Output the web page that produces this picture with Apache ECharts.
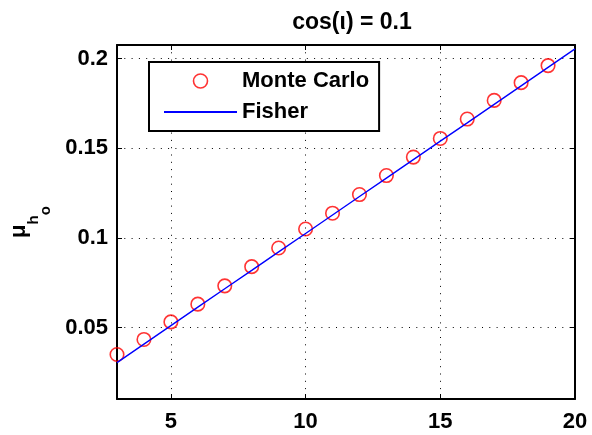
<!DOCTYPE html>
<html>
<head>
<meta charset="utf-8">
<script src="https://cdn.jsdelivr.net/npm/echarts@6/dist/echarts.min.js"></script>
<style>
  html, body { margin: 0; padding: 0; background: #ffffff; }
  #chart { width: 592px; height: 435px; }
</style>
</head>
<body>
<div id="chart"></div>
<script>
// Monte Carlo estimates of mu_h0 versus SNR
const mcSnr = [3, 4, 5, 6, 7, 8, 9, 10, 11, 12, 13, 14, 15, 16, 17, 18, 19];
const mcMu = [0.0349, 0.0433, 0.0531, 0.0630, 0.0732, 0.0839, 0.0943, 0.1049, 0.1137,
              0.1241, 0.1347, 0.1450, 0.1554, 0.1662, 0.1766, 0.1865, 0.1960];

// Fisher-matrix prediction
const fisherSnr = [3, 4, 5, 6, 7, 8, 9, 10, 11, 12, 13, 14, 15, 16, 17, 18, 19, 20];
const fisherMu = [0.0304, 0.0407, 0.0510, 0.0613, 0.0716, 0.0818, 0.0921, 0.1024, 0.1127,
                  0.1230, 0.1333, 0.1436, 0.1539, 0.1641, 0.1744, 0.1847, 0.1950, 0.2053];

// Axis ticks
const xTicks = [5, 10, 15, 20];
const yTicks = [0.05, 0.1, 0.15, 0.2];

const FONT = "'Liberation Sans', Arial, Helvetica, sans-serif";
const X_RANGE = [3, 20];
const Y_RANGE = [0.0101, 0.2075];

const frameLine = { show: true, onZero: false, lineStyle: { color: '#000', width: 2 } };
const gridDots = { show: true, lineStyle: { color: '#000', width: 1, type: [1, 6.3] } };

const chart = echarts.init(document.getElementById('chart'), null, { renderer: 'canvas' });

chart.setOption({
  animation: false,
  backgroundColor: '#ffffff',
  textStyle: { fontFamily: FONT },
  title: {
    text: 'cos(\u03b9) = 0.1',
    left: 347,
    top: 6,
    textAlign: 'center',
    textStyle: { fontFamily: FONT, fontWeight: 'bold', fontSize: 23, color: '#000' }
  },
  grid: { left: 115, right: 17, top: 45, bottom: 36, containLabel: false },
  legend: {
    orient: 'vertical',
    left: 149,
    top: 62,
    itemWidth: 73,
    itemHeight: 14,
    itemGap: 9,
    padding: [8, 10, 8, 14],
    backgroundColor: '#ffffff',
    borderColor: '#000',
    borderWidth: 2,
    borderRadius: 0,
    textStyle: { fontFamily: FONT, fontWeight: 'bold', fontSize: 22, color: '#000' },
    data: [
      {
        name: 'Monte Carlo',
        icon: 'circle',
        itemStyle: { color: 'rgba(0,0,0,0)', borderColor: '#ff0000', borderWidth: 1.6 }
      },
      {
        name: 'Fisher',
        itemStyle: { opacity: 0 },
        lineStyle: { color: '#0000ff', width: 2 }
      }
    ]
  },
  xAxis: [
    {
      type: 'value',
      min: X_RANGE[0],
      max: X_RANGE[1],
      axisLine: frameLine,
      axisTick: { show: true, inside: true, length: 5, customValues: xTicks, lineStyle: { color: '#000', width: 1 } },
      axisLabel: {
        show: true, customValues: xTicks, margin: 12,
        fontFamily: FONT, fontWeight: 'bold', fontSize: 22, color: '#000'
      },
      splitLine: gridDots
    },
    {
      type: 'value',
      position: 'top',
      min: X_RANGE[0],
      max: X_RANGE[1],
      axisLine: frameLine,
      axisTick: { show: true, inside: true, length: 5, customValues: xTicks, lineStyle: { color: '#000', width: 1 } },
      axisLabel: { show: false },
      splitLine: { show: false }
    }
  ],
  yAxis: [
    {
      type: 'value',
      min: Y_RANGE[0],
      max: Y_RANGE[1],
      axisLine: frameLine,
      axisTick: { show: true, inside: true, length: 5, customValues: yTicks, lineStyle: { color: '#000', width: 1 } },
      axisLabel: {
        show: true, customValues: yTicks, margin: 9,
        fontFamily: FONT, fontWeight: 'bold', fontSize: 22, color: '#000'
      },
      splitLine: gridDots,
      name: '{mu|\u03bc}{h|h}{o|o}',
      nameLocation: 'middle',
      nameGap: 64,
      nameMoveOverlap: false,
      nameTextStyle: {
        fontFamily: FONT,
        fontWeight: 'bold',
        color: '#000',
        rich: {
          mu: { fontFamily: FONT, fontWeight: 'bold', fontSize: 22, verticalAlign: 'top' },
          h: { fontFamily: FONT, fontWeight: 'bold', fontSize: 15, verticalAlign: 'top', padding: [18, 0, 0, 0] },
          o: { fontFamily: FONT, fontWeight: 'bold', fontSize: 15, verticalAlign: 'top', padding: [30, 0, 0, 0] }
        }
      }
    },
    {
      type: 'value',
      position: 'right',
      min: Y_RANGE[0],
      max: Y_RANGE[1],
      axisLine: frameLine,
      axisTick: { show: true, inside: true, length: 5, customValues: yTicks, lineStyle: { color: '#000', width: 1 } },
      axisLabel: { show: false },
      splitLine: { show: false }
    }
  ],
  series: [
    {
      name: 'Monte Carlo',
      type: 'scatter',
      xAxisIndex: 0,
      yAxisIndex: 0,
      symbol: 'circle',
      symbolSize: 13.5,
      itemStyle: { color: 'rgba(0,0,0,0)', borderColor: '#ff0000', borderWidth: 1.6 },
      data: mcSnr.map((x, i) => [x, mcMu[i]]),
      z: 3
    },
    {
      name: 'Fisher',
      type: 'line',
      xAxisIndex: 0,
      yAxisIndex: 0,
      symbol: 'none',
      lineStyle: { color: '#0000ff', width: 1.4 },
      data: fisherSnr.map((x, i) => [x, fisherMu[i]]),
      z: 4
    }
  ]
});
</script>
</body>
</html>
